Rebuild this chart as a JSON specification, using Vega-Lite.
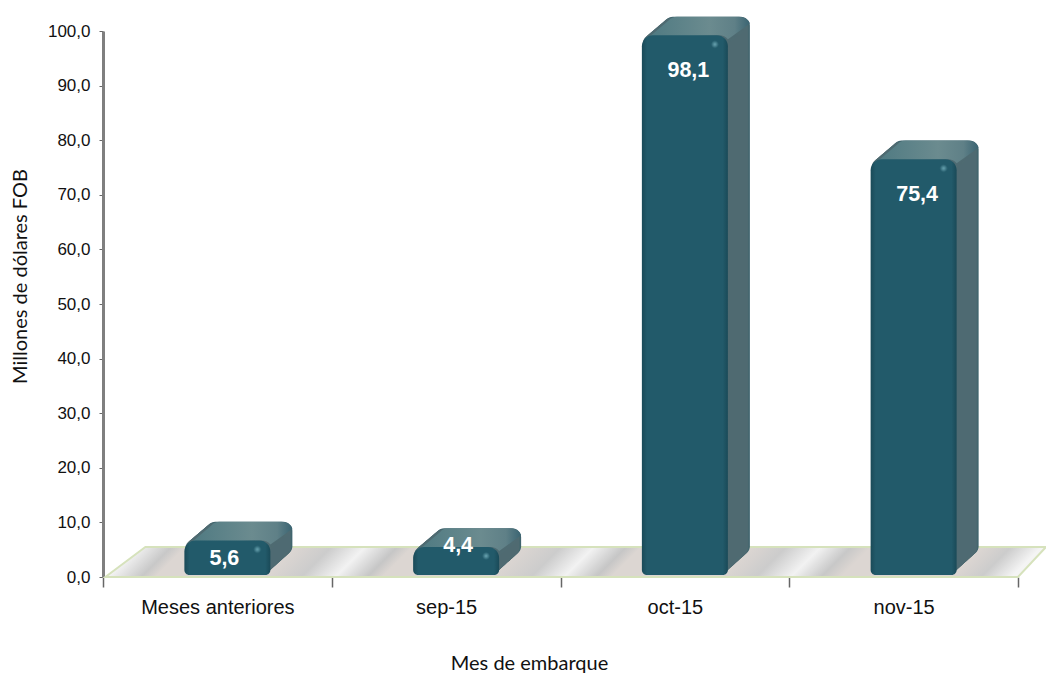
{"$schema":"https://vega.github.io/schema/vega-lite/v6.json","width":915,"height":546,"autosize":{"type":"none"},"padding":{"left":103,"top":31,"right":28,"bottom":96},"background":"#ffffff","config":{"view":{"stroke":null}},
"data":{"values":[{"mes":"Meses anteriores","valor":5.6,"etiqueta":"5,6"},{"mes":"sep-15","valor":4.4,"etiqueta":"4,4"},{"mes":"oct-15","valor":98.1,"etiqueta":"98,1"},{"mes":"nov-15","valor":75.4,"etiqueta":"75,4"}]},
"encoding":{"x":{"field":"mes","type":"nominal","sort":null,"scale":{"paddingInner":0,"paddingOuter":0},"axis":{"title":"Mes de embarque","titleFont":"Lato","titleFontSize":20,"titleFontWeight":"normal","titleColor":"#111111","titleX":426,"titleY":76,"labelFont":"Liberation Sans","labelFontSize":20,"labelColor":"#111111","labelAngle":0,"labelPadding":10,"tickBand":"extent","tickSize":10,"tickColor":"#666666","tickWidth":1.5,"domain":false,"grid":false}},"y":{"field":"valor","type":"quantitative","scale":{"domain":[0,100]},"axis":{"title":"Millones de dólares FOB","titleFont":"Lato","titleFontSize":20,"titleFontWeight":"normal","titleColor":"#111111","titleX":-73,"titleY":245,"values":[0,10,20,30,40,50,60,70,80,90,100],"labelExpr":"replace(format(datum.value,'.1f'),'.',',')","labelFont":"Liberation Sans","labelFontSize":17,"labelColor":"#111111","labelPadding":9,"tickSize":4,"tickColor":"#666666","domainColor":"#7f7f7f","domainWidth":3,"grid":false}}},
"layer":[
{"data":{"values":[{"mes":"Meses anteriores","valor":0}]},"mark":{"type":"point","filled":true,"size":4,"opacity":1,"shape":"M-112,0L800.6,0L828.6,-30L-72,-30Z","fill":{"gradient":"linear","x1":0,"x2":1,"y1":0,"y2":0.032,"stops":[{"offset":0,"color":"#f0f0f0"},{"offset":0.034,"color":"#f4f4f4"},{"offset":0.07,"color":"#c8c8c8"},{"offset":0.085,"color":"#dcd6d2"},{"offset":0.2,"color":"#dcd6d2"},{"offset":0.24,"color":"#cccccc"},{"offset":0.276,"color":"#f2f2f2"},{"offset":0.31,"color":"#c6c6c6"},{"offset":0.326,"color":"#dcd6d2"},{"offset":0.44,"color":"#dcd6d2"},{"offset":0.484,"color":"#cccccc"},{"offset":0.519,"color":"#f2f2f2"},{"offset":0.553,"color":"#c6c6c6"},{"offset":0.569,"color":"#dcd6d2"},{"offset":0.685,"color":"#dcd6d2"},{"offset":0.723,"color":"#cccccc"},{"offset":0.76,"color":"#f2f2f2"},{"offset":0.792,"color":"#c8c8c8"},{"offset":0.813,"color":"#dcd6d2"},{"offset":0.93,"color":"#dcd6d2"},{"offset":0.962,"color":"#cccccc"},{"offset":0.994,"color":"#f4f4f4"},{"offset":1,"color":"#f4f4f4"}]},"stroke":"#d6e2bc","strokeWidth":2}},
{"mark":{"type":"bar","size":86,"xOffset":32,"yOffset":-24.7,"y2Offset":-21.8,"cornerRadius":9,"fill":"#3f646e"},"encoding":{"y2":{"datum":0}}},
{"mark":{"type":"bar","size":86,"xOffset":31,"yOffset":-23.85,"y2Offset":-20.9,"cornerRadius":9,"fill":"#47686f"},"encoding":{"y2":{"datum":0}}},
{"mark":{"type":"bar","size":86,"xOffset":30,"yOffset":-23,"y2Offset":-20,"cornerRadius":9,"fill":"#4f6b72"},"encoding":{"y2":{"datum":0}}},
{"mark":{"type":"bar","size":86,"xOffset":29,"yOffset":-22.15,"y2Offset":-19.1,"cornerRadius":9,"fill":"#4f6b72"},"encoding":{"y2":{"datum":0}}},
{"mark":{"type":"bar","size":86,"xOffset":28,"yOffset":-21.3,"y2Offset":-18.2,"cornerRadius":9,"fill":"#4f6b72"},"encoding":{"y2":{"datum":0}}},
{"mark":{"type":"bar","size":86,"xOffset":27,"yOffset":-20.45,"y2Offset":-17.3,"cornerRadius":9,"fill":"#4f6b72"},"encoding":{"y2":{"datum":0}}},
{"mark":{"type":"bar","size":86,"xOffset":26,"yOffset":-19.6,"y2Offset":-16.4,"cornerRadius":9,"fill":"#4f6b72"},"encoding":{"y2":{"datum":0}}},
{"mark":{"type":"bar","size":86,"xOffset":25,"yOffset":-18.75,"y2Offset":-15.5,"cornerRadius":9,"fill":"#4f6b72"},"encoding":{"y2":{"datum":0}}},
{"mark":{"type":"bar","size":86,"xOffset":24,"yOffset":-17.9,"y2Offset":-14.6,"cornerRadius":9,"fill":"#4f6b72"},"encoding":{"y2":{"datum":0}}},
{"mark":{"type":"bar","size":86,"xOffset":23,"yOffset":-17.05,"y2Offset":-13.7,"cornerRadius":9,"fill":"#4f6b72"},"encoding":{"y2":{"datum":0}}},
{"mark":{"type":"bar","size":86,"xOffset":22,"yOffset":-16.2,"y2Offset":-12.8,"cornerRadius":9,"fill":"#4f6b72"},"encoding":{"y2":{"datum":0}}},
{"mark":{"type":"bar","size":86,"xOffset":21,"yOffset":-15.35,"y2Offset":-11.9,"cornerRadius":9,"fill":"#4f6b72"},"encoding":{"y2":{"datum":0}}},
{"mark":{"type":"bar","size":86,"xOffset":20,"yOffset":-14.5,"y2Offset":-11,"cornerRadius":9,"fill":"#4f6b72"},"encoding":{"y2":{"datum":0}}},
{"mark":{"type":"bar","size":86,"xOffset":19,"yOffset":-13.65,"y2Offset":-10.1,"cornerRadius":9,"fill":"#4f6b72"},"encoding":{"y2":{"datum":0}}},
{"mark":{"type":"bar","size":86,"xOffset":18,"yOffset":-12.8,"y2Offset":-9.2,"cornerRadius":9,"fill":"#4f6b72"},"encoding":{"y2":{"datum":0}}},
{"mark":{"type":"bar","size":86,"xOffset":17,"yOffset":-11.95,"y2Offset":-8.3,"cornerRadius":9,"fill":"#4f6b72"},"encoding":{"y2":{"datum":0}}},
{"mark":{"type":"bar","size":86,"xOffset":16,"yOffset":-11.1,"y2Offset":-7.4,"cornerRadius":9,"fill":"#4f6b72"},"encoding":{"y2":{"datum":0}}},
{"mark":{"type":"bar","size":86,"xOffset":15,"yOffset":-10.25,"y2Offset":-6.5,"cornerRadius":9,"fill":"#4f6b72"},"encoding":{"y2":{"datum":0}}},
{"mark":{"type":"bar","size":86,"xOffset":14,"yOffset":-9.4,"y2Offset":-5.6,"cornerRadius":9,"fill":"#4f6b72"},"encoding":{"y2":{"datum":0}}},
{"mark":{"type":"bar","size":86,"xOffset":13,"yOffset":-8.55,"y2Offset":-4.7,"cornerRadius":9,"fill":"#4f6b72"},"encoding":{"y2":{"datum":0}}},
{"mark":{"type":"bar","size":86,"xOffset":12,"yOffset":-7.7,"y2Offset":-3.8,"cornerRadius":9,"fill":"#4f6b72"},"encoding":{"y2":{"datum":0}}},
{"mark":{"type":"bar","size":86,"xOffset":11,"yOffset":-6.85,"y2Offset":-2.9,"cornerRadius":9,"fill":"#4f6b72"},"encoding":{"y2":{"datum":0}}},
{"mark":{"type":"point","filled":true,"opacity":1,"size":4,"xOffset":10,"yOffset":-6,"shape":"M-36,2L-16,-15Q-13,-18.7-8,-18.7L54,-18.7Q62,-18.7 65,-12Q60,-8 43,4Q40,0 34,0Z","fill":{"gradient":"linear","x1":0,"x2":1,"y1":0,"y2":0,"stops":[{"offset":0,"color":"#4f7a82"},{"offset":0.6,"color":"#6b8b8f"},{"offset":0.85,"color":"#5f8087"},{"offset":1,"color":"#3a6472"}]}}},
{"mark":{"type":"bar","size":86,"xOffset":10,"yOffset":-6,"y2Offset":-2,"cornerRadiusTopLeft":11,"cornerRadiusTopRight":11,"cornerRadiusBottomLeft":5,"cornerRadiusBottomRight":5,"fill":{"gradient":"linear","x1":0,"x2":1,"y1":0,"y2":0,"stops":[{"offset":0,"color":"#1a4a58"},{"offset":0.06,"color":"#225a6a"},{"offset":0.94,"color":"#225a6a"},{"offset":1,"color":"#1a4a58"}]}},"encoding":{"y2":{"datum":0}}},
{"mark":{"type":"point","filled":true,"opacity":1,"size":60,"shape":"circle","xOffset":40,"yOffset":3,"fill":{"gradient":"radial","x1":0.5,"y1":0.5,"x2":0.5,"y2":0.5,"r1":0,"r2":0.5,"stops":[{"offset":0,"color":"#6ba6b3"},{"offset":1,"color":"#225a6a"}]}}},
{"transform":[{"filter":"datum.valor>50"}],"mark":{"type":"text","font":"Liberation Sans","fontSize":21.5,"fontWeight":"bold","fill":"#ffffff","baseline":"middle","dy":30,"dx":13.5},"encoding":{"text":{"field":"etiqueta"}}},
{"transform":[{"filter":"datum.mes=='Meses anteriores'"}],"mark":{"type":"text","font":"Liberation Sans","fontSize":21.5,"fontWeight":"bold","fill":"#ffffff","baseline":"middle","dy":13,"dx":7},"encoding":{"text":{"field":"etiqueta"}}},
{"transform":[{"filter":"datum.mes=='sep-15'"}],"mark":{"type":"text","font":"Liberation Sans","fontSize":21.5,"fontWeight":"bold","fill":"#ffffff","baseline":"middle","dy":-7,"dx":12},"encoding":{"text":{"field":"etiqueta"}}}
]}
